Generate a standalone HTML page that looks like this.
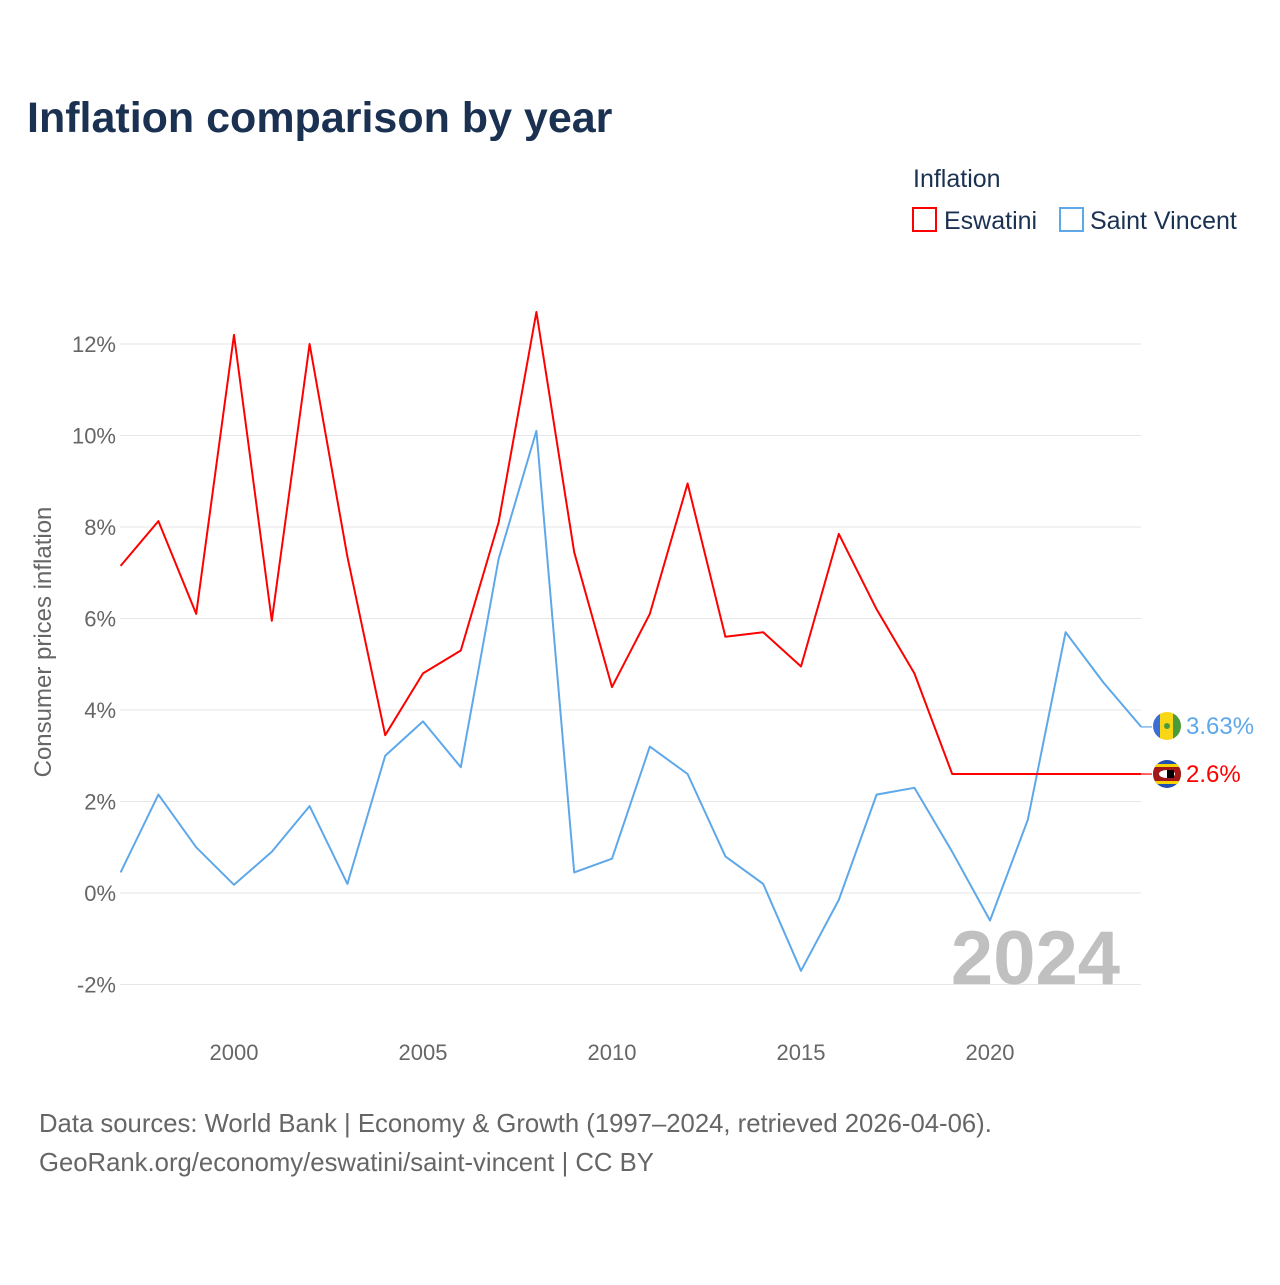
<!DOCTYPE html>
<html><head><meta charset="utf-8">
<style>
body{margin:0;background:#fff;font-family:"Liberation Sans",sans-serif;}
svg text{font-family:"Liberation Sans",sans-serif;}
</style></head>
<body>
<svg width="1280" height="1280" viewBox="0 0 1280 1280" xmlns="http://www.w3.org/2000/svg">
<text x="27" y="132" font-size="43" font-weight="bold" fill="#1b3152">Inflation comparison by year</text>
<text x="913" y="187" font-size="25" fill="#1b3152">Inflation</text>
<g>
<rect x="913" y="208" width="23" height="23" fill="none" stroke="#ff0000" stroke-width="2"/>
<text x="944" y="229" font-size="25" fill="#1b3152">Eswatini</text></g>
<g>
<rect x="1060" y="208" width="23" height="23" fill="none" stroke="#5ea8ea" stroke-width="2"/>
<text x="1090" y="229" font-size="25" fill="#1b3152">Saint Vincent</text></g>
<g id="grid"></g>
<g id="yticks"></g>
<g id="xticks"></g>
<text transform="translate(51,642) rotate(-90)" text-anchor="middle" font-size="24" fill="#666">Consumer prices inflation</text>
<text x="1120" y="984" text-anchor="end" font-size="76" font-weight="bold" fill="#c0c0c0">2024</text>
<g id="series"></g>
<g>
<clipPath id="c1"><circle cx="1167" cy="726" r="14"/></clipPath>
<g clip-path="url(#c1)"><rect x="1153" y="712" width="8" height="28" fill="#3b6fd6"/><rect x="1160" y="712" width="14" height="28" fill="#f9d616"/><rect x="1173" y="712" width="9" height="28" fill="#4c9b3b"/><circle cx="1167" cy="726" r="3" fill="#4c9b3b"/></g></g>
<g>
<clipPath id="c2"><circle cx="1167" cy="774" r="14"/></clipPath>
<g clip-path="url(#c2)"><rect x="1153" y="760" width="28" height="28" fill="#1f4fb0"/><rect x="1153" y="764" width="28" height="20" fill="#f7d200"/><rect x="1153" y="767" width="28" height="14" fill="#a01818"/><ellipse cx="1167" cy="774" rx="8" ry="4" fill="#fff"/><rect x="1167" y="770" width="7" height="8" fill="#000"/></g></g>
<text x="1186" y="734" font-size="24" fill="#5ea8ea">3.63%</text>
<text x="1186" y="782" font-size="24" fill="#ff0000">2.6%</text>
<text x="39" y="1132" font-size="25.7" fill="#666">Data sources: World Bank | Economy &amp; Growth (1997–2024, retrieved 2026-04-06).</text>
<text x="39" y="1171" font-size="25.7" fill="#666">GeoRank.org/economy/eswatini/saint-vincent | CC BY</text>
</svg>
<script>
const years=[1997,1998,1999,2000,2001,2002,2003,2004,2005,2006,2007,2008,2009,2010,2011,2012,2013,2014,2015,2016,2017,2018,2019,2020,2021,2022,2023,2024];
const eswatini=[7.15,8.13,6.1,12.2,5.95,12.0,7.35,3.45,4.8,5.3,8.1,12.7,7.45,4.5,6.1,8.95,5.6,5.7,4.95,7.85,6.2,4.8,2.6,2.6,2.6,2.6,2.6,2.6];
const saintVincent=[0.45,2.15,1.0,0.18,0.9,1.9,0.2,3.0,3.75,2.75,7.3,10.1,0.45,0.75,3.2,2.6,0.8,0.2,-1.7,-0.15,2.15,2.3,0.9,-0.6,1.6,5.7,4.6,3.63];
const yTicks=[-2,0,2,4,6,8,10,12];
const xTicks=[2000,2005,2010,2015,2020];
const NS="http://www.w3.org/2000/svg";
function xs(y){return 120.6+(y-1997)*37.8;}
function ys(v){return 893-v*45.75;}
function mk(t,a,p){const e=document.createElementNS(NS,t);for(const k in a)e.setAttribute(k,a[k]);p.appendChild(e);return e;}
const grid=document.getElementById('grid'),yt=document.getElementById('yticks'),xt=document.getElementById('xticks'),se=document.getElementById('series');
yTicks.forEach(v=>{
 const l=mk('line',{x1:120,x2:1141,y1:ys(v),y2:ys(v),stroke:'#e6e6e6','stroke-width':1},grid);
 
 
 const t=mk('text',{x:116,y:ys(v)+8,'text-anchor':'end','font-size':22,fill:'#666'},yt);
 t.textContent=v+'%';
 
 
});
xTicks.forEach(v=>{
 const t=mk('text',{x:xs(v),y:1060,'text-anchor':'middle','font-size':22,fill:'#666'},xt);
 t.textContent=v;
 
 
});
function line(vals,color,name){
 let d=vals.map((v,i)=>(i?'L':'M')+xs(years[i]).toFixed(1)+','+ys(v).toFixed(1)).join('');
 const p=mk('path',{d:d,fill:'none',stroke:color,'stroke-width':2,'stroke-linejoin':'round'},se);
 
 
 const last=vals[vals.length-1];
 const e=mk('line',{x1:xs(years[years.length-1]),x2:1152,y1:ys(last),y2:ys(last),stroke:color,'stroke-width':1.2},se);
 
 
}
line(saintVincent,'#5ea8ea','line-saint-vincent');
line(eswatini,'#ff0000','line-eswatini');
</script>
</body></html>
